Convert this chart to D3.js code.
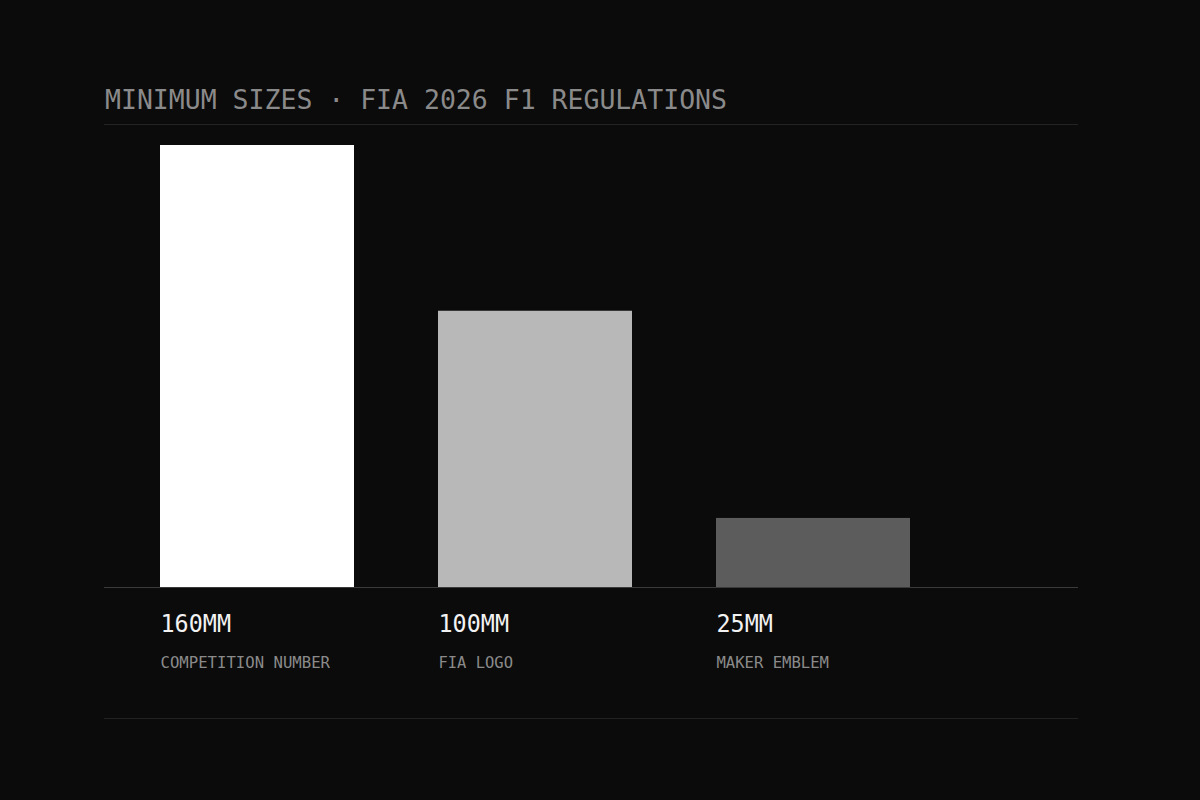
<!DOCTYPE html>
<html><head><meta charset="utf-8">
<script src="https://cdn.jsdelivr.net/npm/d3@7"></script>
<style>
html,body{margin:0;padding:0;background:#0b0b0b;}
svg{display:block;}
text{font-family:"DejaVu Sans Mono","Liberation Mono",monospace;}
</style></head>
<body>
<script>
const categories = ["COMPETITION NUMBER", "FIA LOGO", "MAKER EMBLEM"];
const values = [160, 100, 25];
const valueLabels = ["160MM", "100MM", "25MM"];
const barColors = ["#ffffff", "#b8b8b8", "#5c5c5c"];
const title = "MINIMUM SIZES · FIA 2026 F1 REGULATIONS";

const W = 1200, H = 800;
const svg = d3.select("body").append("svg").attr("width", W).attr("height", H);
svg.append("rect").attr("width", W).attr("height", H).attr("fill", "#0b0b0b");

const left = 104, right = 1078, baseY = 587, topY = 145;

const x = d3.scaleBand().domain(categories).range([160, 910]).paddingInner(84/278).paddingOuter(0);
const y = d3.scaleLinear().domain([0, 160]).range([baseY, topY]);

// title
svg.append("text").attr("x", 105).attr("y", 109)
  .attr("fill", "#8a8a8a").attr("font-size", 26.5).attr("letter-spacing", 0)
  .attr("textLength", 622).attr("lengthAdjust", "spacingAndGlyphs")
  .text(title);

// top rule
svg.append("line").attr("x1", left).attr("x2", right).attr("y1", 124.5).attr("y2", 124.5)
  .attr("stroke", "#242424").attr("stroke-width", 1);

// bars
svg.selectAll("rect.bar").data(values).enter().append("rect")
  .attr("class", "bar")
  .attr("x", (d, i) => x(categories[i]))
  .attr("width", x.bandwidth())
  .attr("y", d => y(d))
  .attr("height", d => baseY - y(d))
  .attr("fill", (d, i) => barColors[i]);

// baseline
svg.append("line").attr("x1", left).attr("x2", right).attr("y1", baseY + 0.5).attr("y2", baseY + 0.5)
  .attr("stroke", "#3a3a3a").attr("stroke-width", 1);

// value labels
svg.selectAll("text.val").data(valueLabels).enter().append("text")
  .attr("class", "val")
  .attr("x", (d, i) => x(categories[i]) + 0.5)
  .attr("y", 632)
  .attr("fill", "#f2f2f2").attr("font-size", 24)
  .attr("textLength", d => d.length * 14.1).attr("lengthAdjust", "spacingAndGlyphs")
  .text(d => d);

// category labels
svg.selectAll("text.cat").data(categories).enter().append("text")
  .attr("class", "cat")
  .attr("x", (d, i) => x(d) + 0.5)
  .attr("y", 668)
  .attr("fill", "#8a8a8a").attr("font-size", 15.5)
  .attr("textLength", d => d.length * 9.5 - 1.5).attr("lengthAdjust", "spacingAndGlyphs")
  .text(d => d);

// bottom rule
svg.append("line").attr("x1", left).attr("x2", right).attr("y1", 718.5).attr("y2", 718.5)
  .attr("stroke", "#222222").attr("stroke-width", 1);
</script>
</body></html>
